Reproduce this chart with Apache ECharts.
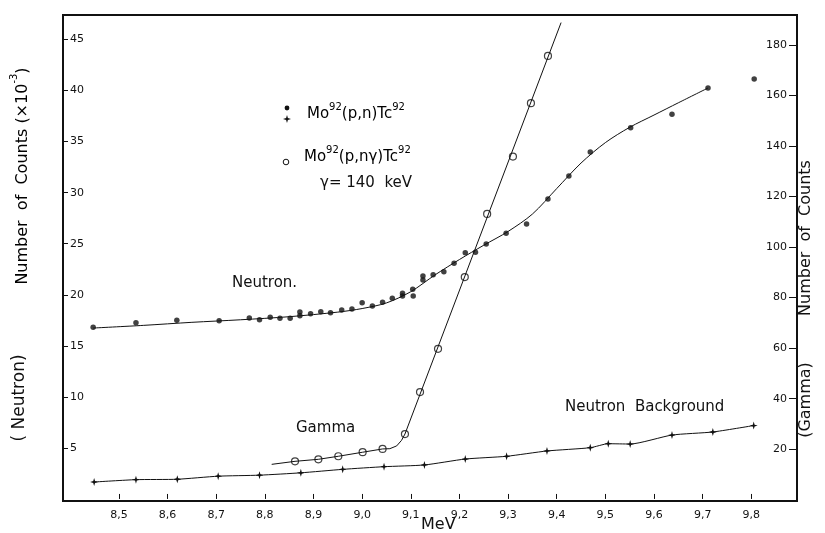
<!DOCTYPE html>
<html>
<head>
<meta charset="utf-8">
<script src="https://cdn.jsdelivr.net/npm/echarts@6/dist/echarts.min.js"></script>
<style>
  html, body { margin: 0; padding: 0; background: #fff; }
  #chart { width: 825px; height: 533px; }
</style>
</head>
<body>
<div id="chart"></div>
<script>
// Proton energy (MeV) tick labels and count-axis ticks
const energyTicks = [8.5, 8.6, 8.7, 8.8, 8.9, 9.0, 9.1, 9.2, 9.3, 9.4, 9.5, 9.6, 9.7, 9.8];
const neutronTicks = [5, 10, 15, 20, 25, 30, 35, 40, 45];
const gammaTicks = [20, 40, 60, 80, 100, 120, 140, 160, 180];

// Mo92(p,n)Tc92 neutron counts (x10^-3)
const neutronE = [8.447, 8.535, 8.619, 8.706, 8.768, 8.789, 8.811, 8.831, 8.852, 8.872, 8.872, 8.894, 8.915, 8.935, 8.958, 8.979, 9.000, 9.021, 9.042, 9.062, 9.083, 9.083, 9.104, 9.105, 9.125, 9.125, 9.146, 9.168, 9.189, 9.212, 9.233, 9.255, 9.296, 9.338, 9.382, 9.425, 9.469, 9.552, 9.637, 9.711, 9.806];
const neutronCounts = [16.81, 17.26, 17.50, 17.46, 17.72, 17.56, 17.79, 17.69, 17.69, 18.31, 17.95, 18.14, 18.34, 18.24, 18.51, 18.60, 19.22, 18.90, 19.26, 19.65, 20.14, 19.88, 20.53, 19.88, 21.84, 21.45, 21.96, 22.26, 23.08, 24.12, 24.16, 24.97, 26.02, 26.93, 29.38, 31.63, 33.98, 36.36, 37.67, 40.25, 41.13];

// Smooth curve drawn through the neutron yield
const neutronFitE = [8.447, 8.55, 8.65, 8.75, 8.85, 8.95, 9.0, 9.05, 9.1, 9.15, 9.2, 9.25, 9.3, 9.35, 9.4, 9.45, 9.5, 9.55, 9.6, 9.65, 9.711];
const neutronFitCounts = [16.74, 17.0, 17.3, 17.55, 17.85, 18.3, 18.65, 19.2, 20.3, 21.95, 23.45, 24.85, 26.2, 27.9, 30.4, 32.9, 34.9, 36.4, 37.6, 38.8, 40.25];

// Mo92(p,n gamma)Tc92, 140 keV gamma counts
const gammaE = [8.862, 8.910, 8.951, 9.001, 9.042, 9.088, 9.119, 9.156, 9.211, 9.257, 9.310, 9.347, 9.382];
const gammaCounts = [15.2, 16.0, 17.2, 18.8, 20.1, 26.0, 42.6, 59.7, 88.1, 113.1, 135.8, 156.9, 175.6];

// Curve through the gamma yield
const gammaFitE = [8.814, 8.862, 8.910, 8.951, 9.001, 9.042, 9.057, 9.071, 9.081, 9.088, 9.409];
const gammaFitCounts = [14.0, 15.2, 16.0, 17.2, 18.8, 20.1, 20.2, 21.3, 23.5, 26.0, 188.8];

// Neutron background counts (x10^-3)
const backgroundE = [8.449, 8.535, 8.620, 8.704, 8.789, 8.874, 8.960, 9.045, 9.128, 9.212, 9.297, 9.380, 9.469, 9.506, 9.551, 9.637, 9.721, 9.805];
const backgroundCounts = [1.66, 1.89, 1.93, 2.23, 2.33, 2.56, 2.90, 3.16, 3.33, 3.91, 4.18, 4.70, 5.02, 5.41, 5.38, 6.26, 6.56, 7.19];

const zip = (xs, ys) => xs.map((x, i) => [x, ys[i]]);

const FONT = 'DejaVu Sans';
const INK = '#111';
const plusSymbol = 'path://M0,-4L0.9,-0.9L4,0L0.9,0.9L0,4L-0.9,0.9L-4,0L-0.9,-0.9Z';
// four-point star outline used in the key
const starPoints = (cx, cy, r, w) => [
  [cx, cy - r], [cx + w, cy - w], [cx + r, cy], [cx + w, cy + w],
  [cx, cy + r], [cx - w, cy + w], [cx - r, cy], [cx - w, cy - w]
];

const chart = echarts.init(document.getElementById('chart'), null, { renderer: 'canvas' });

const supRich = (size) => ({
  a: { fontFamily: FONT, fontSize: size, color: INK, lineHeight: size + 5, verticalAlign: 'bottom' },
  s: { fontFamily: FONT, fontSize: 10, color: INK, lineHeight: size + 5, verticalAlign: 'top' }
});

const tickLabel = { fontFamily: FONT, fontSize: 11, color: INK };

chart.setOption({
  animation: false,
  backgroundColor: '#fff',
  grid: {
    left: 63, right: 28, top: 15, bottom: 32,
    show: true, borderColor: INK, borderWidth: 2, backgroundColor: 'transparent'
  },
  xAxis: {
    type: 'value',
    min: 8.385, max: 9.894,
    axisLine: { show: false },
    axisTick: { show: true, inside: true, length: 5, customValues: energyTicks, lineStyle: { color: INK } },
    axisLabel: Object.assign({
      customValues: energyTicks, margin: 9,
      formatter: v => v.toFixed(1).replace('.', ',')
    }, tickLabel),
    splitLine: { show: false }
  },
  yAxis: [
    {
      type: 'value', position: 'left',
      min: -0.2, max: 47.4,
      axisLine: { show: false },
      axisTick: { show: true, inside: true, length: 5, customValues: neutronTicks, lineStyle: { color: INK } },
      axisLabel: Object.assign({ inside: true, customValues: neutronTicks, margin: 7 }, tickLabel),
      splitLine: { show: false }
    },
    {
      type: 'value', position: 'right',
      min: -0.5, max: 191.8,
      axisLine: { show: false },
      axisTick: { show: true, inside: true, length: 8, customValues: gammaTicks, lineStyle: { color: INK } },
      axisLabel: Object.assign({ inside: true, customValues: gammaTicks, margin: 10 }, tickLabel),
      splitLine: { show: false }
    }
  ],
  series: [
    {
      name: 'Neutron curve', type: 'line', yAxisIndex: 0,
      data: zip(neutronFitE, neutronFitCounts),
      smooth: 0.3, showSymbol: false,
      lineStyle: { color: INK, width: 1 }, silent: true
    },
    {
      name: 'Neutron', type: 'scatter', yAxisIndex: 0,
      data: zip(neutronE, neutronCounts),
      symbol: 'circle', symbolSize: 5.5,
      itemStyle: { color: INK }
    },
    {
      name: 'Gamma curve', type: 'line', yAxisIndex: 1,
      data: zip(gammaFitE, gammaFitCounts),
      showSymbol: false,
      lineStyle: { color: INK, width: 1 }, silent: true
    },
    {
      name: 'Gamma', type: 'scatter', yAxisIndex: 1,
      data: zip(gammaE, gammaCounts),
      symbol: 'circle', symbolSize: 7,
      itemStyle: { color: '#fff', borderColor: INK, borderWidth: 1.2 }
    },
    {
      name: 'Neutron Background', type: 'line', yAxisIndex: 0,
      data: zip(backgroundE, backgroundCounts),
      smooth: 0.2, symbol: plusSymbol, symbolSize: 8, showSymbol: true,
      lineStyle: { color: INK, width: 1 },
      itemStyle: { color: INK }
    }
  ],
  graphic: [
    // curve labels
    { type: 'text', x: 232, y: 283, style: { text: 'Neutron.', fontFamily: FONT, fontSize: 15, fill: INK, align: 'left', verticalAlign: 'middle' } },
    { type: 'text', x: 296, y: 428, style: { text: 'Gamma', fontFamily: FONT, fontSize: 15, fill: INK, align: 'left', verticalAlign: 'middle' } },
    { type: 'text', x: 565, y: 407, style: { text: 'Neutron  Background', fontFamily: FONT, fontSize: 15, fill: INK, align: 'left', verticalAlign: 'middle' } },

    // key
    { type: 'circle', shape: { cx: 287, cy: 108, r: 2.4 }, style: { fill: INK } },
    { type: 'polygon', shape: { points: starPoints(287, 119, 4, 0.9) }, style: { fill: INK } },
    { type: 'text', x: 307, y: 112, style: {
      text: '{a|Mo}{s|92}{a|(p,n)Tc}{s|92}', rich: supRich(15), align: 'left', verticalAlign: 'middle' } },
    { type: 'circle', shape: { cx: 286, cy: 162, r: 2.8 }, style: { fill: '#fff', stroke: INK, lineWidth: 1 } },
    { type: 'text', x: 304, y: 155, style: {
      text: '{a|Mo}{s|92}{a|(p,nγ)Tc}{s|92}', rich: supRich(15), align: 'left', verticalAlign: 'middle' } },
    { type: 'text', x: 320, y: 183, style: { text: 'γ= 140  keV', fontFamily: FONT, fontSize: 15, fill: INK, align: 'left', verticalAlign: 'middle' } },

    // axis titles
    { type: 'text', x: 421, y: 525, style: { text: 'MeV', fontFamily: FONT, fontSize: 16, fill: INK, align: 'left', verticalAlign: 'middle' } },
    { type: 'text', x: 20, y: 176, rotation: Math.PI / 2, style: {
      text: '{a|Number  of  Counts (×10}{s|-3}{a|)}', rich: supRich(16), align: 'center', verticalAlign: 'middle' } },
    { type: 'text', x: 20, y: 398, rotation: Math.PI / 2, style: { text: '( Neutron)', fontFamily: FONT, fontSize: 17, fill: INK, align: 'center', verticalAlign: 'middle' } },
    { type: 'text', x: 806, y: 238, rotation: Math.PI / 2, style: { text: 'Number  of  Counts', fontFamily: FONT, fontSize: 16, fill: INK, align: 'center', verticalAlign: 'middle' } },
    { type: 'text', x: 806, y: 400, rotation: Math.PI / 2, style: { text: '(Gamma)', fontFamily: FONT, fontSize: 16, fill: INK, align: 'center', verticalAlign: 'middle' } }
  ]
});
</script>
</body>
</html>
